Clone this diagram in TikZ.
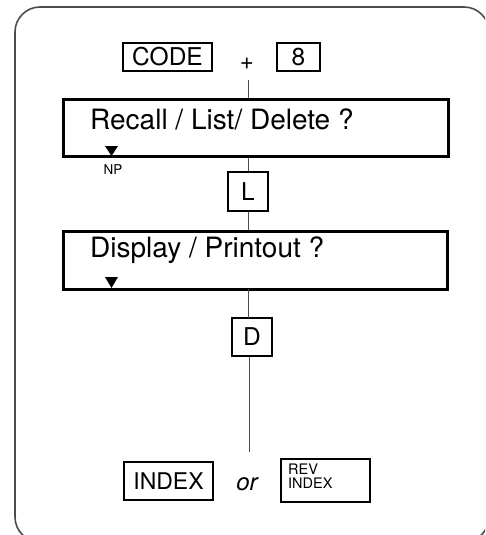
\documentclass[tikz,border=0pt]{standalone}
\usepackage{fontspec}
\setmainfont{TeX Gyre Heros}
\begin{document}
\begin{tikzpicture}[x=1pt,y=-1pt,
  key/.style={draw=black,line width=1.3pt,inner sep=0pt,font=\fontsize{24.5}{24.5}\selectfont},
  panel/.style={draw=black,line width=3pt,inner sep=0pt},
  link/.style={draw=black!70,line width=0.9pt},
  marker/.style={fill=black,draw=none}]
\useasboundingbox (0,0) rectangle (485,535);
\begin{scope}
\clip (0,0) rectangle (485,535);
\draw[black!70,line width=1.6pt,rounded corners=25pt] (15,7) rectangle (489,542);
\end{scope}
% top keys
\node[key,minimum width=89pt,minimum height=28pt] (code) at (167.5,57) {CODE};
\node[font=\fontsize{24}{24}\selectfont,inner sep=0pt] (plus) at (247,64) {+};
\node[key,minimum width=43pt,minimum height=28pt] (eight) at (298.5,57) {8};
% recall panel
\node[panel,minimum width=385pt,minimum height=57pt] (recall) at (255.5,127.5) {};
\node[anchor=west,inner sep=0pt,font=\fontsize{28}{28}\selectfont] (recalltxt) at (90,119) {Recall / List/ Delete ?};
\path[marker] (105,146) -- (118,146) -- (111.5,156) -- cycle;
\node[inner sep=0pt,font=\fontsize{13.5}{13.5}\selectfont] (np) at (113,170) {NP};
% L key
\node[key,minimum width=40pt,minimum height=39pt] (lkey) at (248,191.5) {L};
% display panel
\node[panel,minimum width=384pt,minimum height=58pt] (display) at (255,260) {};
\node[anchor=west,inner sep=0pt,font=\fontsize{28}{28}\selectfont] (displaytxt) at (90,250) {Display / Printout ?};
\path[marker] (105,277) -- (118,277) -- (111.5,288) -- cycle;
% D key
\node[key,minimum width=40pt,minimum height=38pt] (dkey) at (252,337) {D};
% bottom keys
\node[key,minimum width=89pt,minimum height=38pt,font=\fontsize{23}{23}\selectfont] (index) at (168.5,481) {INDEX};
\node[inner sep=0pt,font=\fontsize{24}{24}\selectfont\itshape] (or) at (247,484) {or};
\node[draw=black,line width=1.3pt,minimum width=89pt,minimum height=43pt] (rev) at (325.5,480.5) {};
\node[anchor=north west,inner sep=0pt,align=left,font=\fontsize{14.5}{13.5}\selectfont] (revtxt) at (288,464) {REV\\INDEX};
% connectors
\coordinate (ctop) at (248,80);
\coordinate (cend) at (249,452);
\draw[link] (ctop) -- (ctop |- recall.north);
\draw[link] (lkey.north |- recall.south) -- (lkey.north);
\draw[link] (lkey.south) -- (lkey.south |- display.north);
\draw[link] (248,289) -- (248,318);
\draw[link] (dkey.south -| cend) -- (cend);
\end{tikzpicture}
\end{document}
